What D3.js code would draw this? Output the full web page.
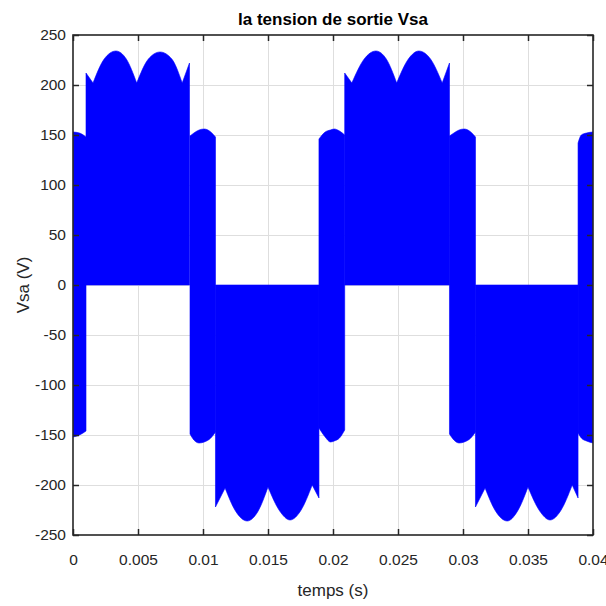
<!DOCTYPE html>
<html>
<head>
<meta charset="utf-8">
<script src="https://cdn.jsdelivr.net/npm/d3@7"></script>
<style>
  body { margin: 0; background: #fff; }
  text { font-family: "Liberation Sans", Arial, sans-serif; }
</style>
</head>
<body>
<script>
// axis ticks
const xTicks = [0, 0.005, 0.01, 0.015, 0.02, 0.025, 0.03, 0.035, 0.04];
const xTickLabels = ["0", "0.005", "0.01", "0.015", "0.02", "0.025", "0.03", "0.035", "0.04"];
const yTicks = [-250, -200, -150, -100, -50, 0, 50, 100, 150, 200, 250];

// bipolar stretches (output swings + and -): time, upper and lower envelope (V)
const bandA_t  = [0, 0.0005, 0.001];
const bandA_hi = [153, 152, 148];
const bandA_lo = [-152, -150, -146];

const bandB_t  = [0.009, 0.0093, 0.0097, 0.0101, 0.0106, 0.01096];
const bandB_hi = [149, 152, 155, 156, 153, 148];
const bandB_lo = [-149, -155, -158, -157, -153, -147];

const bandC_t  = [0.01892, 0.0194, 0.0198, 0.0201, 0.0205, 0.0209];
const bandC_hi = [146, 153, 155, 156, 154, 150];
const bandC_lo = [-143, -152, -157, -156, -153, -145];

const bandD_t  = [0.02896, 0.0293, 0.0297, 0.0301, 0.0306, 0.03096];
const bandD_hi = [149, 152, 155, 156, 153, 148];
const bandD_lo = [-149, -155, -158, -157, -153, -147];

const bandE_t  = [0.03885, 0.0391, 0.0395, 0.04];
const bandE_hi = [142, 150, 152, 153];
const bandE_lo = [-148, -153, -156, -158];

// unipolar stretches (pulses between 0 and the envelope): time, envelope (V)
const pos1_t = [0.0010, 0.00154, 0.0024, 0.0033, 0.0041, 0.0049, 0.0058, 0.0067, 0.0076, 0.0084, 0.00896];
const pos1_v = [212, 202, 226, 234, 226, 202, 226, 233, 226, 202, 222];

const neg1_t = [0.01096, 0.0117, 0.0125, 0.0134, 0.0142, 0.0150, 0.0159, 0.0167, 0.0175, 0.0184, 0.01892];
const neg1_v = [-222, -203, -226, -236, -227, -202, -226, -235, -226, -200, -213];

const pos2_t = [0.0209, 0.02145, 0.0224, 0.0233, 0.0241, 0.0249, 0.0258, 0.0266, 0.0275, 0.0284, 0.02896];
const pos2_v = [212, 202, 226, 234, 226, 202, 226, 234, 226, 202, 222];

const neg2_t = [0.03096, 0.0317, 0.0325, 0.0334, 0.0342, 0.0350, 0.0359, 0.0367, 0.0375, 0.0384, 0.03885];
const neg2_v = [-222, -203, -226, -236, -226, -202, -226, -235, -226, -200, -213];


const blue = "#0000ff";
const axisColor = "#262626";

let svg = d3.select("body").append("svg")
  .attr("width", 606)
  .attr("height", 606);

let x = d3.scaleLinear().domain([0, 0.04]).range([73, 593]);
let y = d3.scaleLinear().domain([-250, 250]).range([535, 35]);

svg.append("defs").append("clipPath").attr("id", "clip")
  .append("rect")
    .attr("x", x(0)).attr("y", y(250))
    .attr("width", x(0.04) - x(0)).attr("height", y(-250) - y(250));

// grid
let grid = svg.append("g").attr("stroke", "#dedede").attr("stroke-width", 1).attr("shape-rendering", "crispEdges");
grid.selectAll(null)
  .data(xTicks.slice(1, -1))
  .enter().append("line")
    .attr("x1", d => x(d)).attr("x2", d => x(d))
    .attr("y1", y(250)).attr("y2", y(-250));
grid.selectAll(null)
  .data(yTicks.slice(1, -1))
  .enter().append("line")
    .attr("x1", x(0)).attr("x2", x(0.04))
    .attr("y1", d => y(d)).attr("y2", d => y(d));

let plot = svg.append("g").attr("clip-path", "url(#clip)");

function drawBand(t, hi, lo) {
  let pts = t.map((d, i) => ({ t: d, hi: hi[i], lo: lo[i] }));
  plot.append("path")
    .datum(pts)
    .attr("d", d3.area()
      .x(d => x(d.t))
      .y0(d => y(d.lo))
      .y1(d => y(d.hi))
      .curve(d3.curveMonotoneX))
    .attr("fill", blue)
    .attr("stroke", blue)
    .attr("stroke-width", 0.6);
}

let arcLine = d3.line().x(d => x(d.t)).y(d => y(d.v)).curve(d3.curveMonotoneX);

function drawPulses(t, v) {
  let pts = t.map((d, i) => ({ t: d, v: v[i] }));
  // split the envelope at its cusps so each arc is smooth and the cusps stay sharp
  let groups = [], start = 0;
  for (let i = 1; i < pts.length - 1; i++) {
    let a = Math.abs(pts[i].v);
    if (a < Math.abs(pts[i - 1].v) && a < Math.abs(pts[i + 1].v)) {
      groups.push(pts.slice(start, i + 1));
      start = i;
    }
  }
  groups.push(pts.slice(start));
  // one closed path: baseline -> arcs -> baseline
  let d = `M${x(pts[0].t)},${y(0)}`;
  groups.forEach(g => { d += arcLine(g).replace(/^M/, "L"); });
  d += `L${x(pts[pts.length - 1].t)},${y(0)}Z`;
  plot.append("path")
    .attr("d", d)
    .attr("fill", blue)
    .attr("stroke", blue)
    .attr("stroke-width", 0.6);
}

drawPulses(pos1_t, pos1_v);
drawPulses(neg1_t, neg1_v);
drawPulses(pos2_t, pos2_v);
drawPulses(neg2_t, neg2_v);
drawBand(bandA_t, bandA_hi, bandA_lo);
drawBand(bandB_t, bandB_hi, bandB_lo);
drawBand(bandC_t, bandC_hi, bandC_lo);
drawBand(bandD_t, bandD_hi, bandD_lo);
drawBand(bandE_t, bandE_hi, bandE_lo);

// axes, ticks pointing inwards on all four sides
function styleAxis(g) {
  g.select(".domain").remove();
  g.selectAll(".tick line").attr("stroke", axisColor).attr("stroke-width", 1.5);
  g.selectAll(".tick text").attr("fill", axisColor).attr("font-size", "15.5px")
    .attr("font-family", "'Liberation Sans', Arial, sans-serif");
}

svg.append("g")
  .attr("transform", `translate(0,${y(-250)})`)
  .call(d3.axisBottom(x).tickValues(xTicks).tickFormat((d, i) => xTickLabels[i])
    .tickSizeInner(-6).tickSizeOuter(0).tickPadding(19))
  .call(styleAxis);

svg.append("g")
  .attr("transform", `translate(0,${y(250)})`)
  .call(d3.axisTop(x).tickValues(xTicks).tickFormat("").tickSizeInner(-6).tickSizeOuter(0))
  .call(styleAxis);

svg.append("g")
  .attr("transform", `translate(${x(0)},0)`)
  .call(d3.axisLeft(y).tickValues(yTicks).tickFormat(d => d)
    .tickSizeInner(-6).tickSizeOuter(0).tickPadding(7))
  .call(styleAxis);

svg.append("g")
  .attr("transform", `translate(${x(0.04)},0)`)
  .call(d3.axisRight(y).tickValues(yTicks).tickFormat("").tickSizeInner(-6).tickSizeOuter(0))
  .call(styleAxis);

svg.append("rect")
  .attr("x", x(0)).attr("y", y(250))
  .attr("width", x(0.04) - x(0)).attr("height", y(-250) - y(250))
  .attr("fill", "none")
  .attr("stroke", axisColor)
  .attr("stroke-width", 1.6);

// texts
svg.append("text")
  .attr("x", (x(0) + x(0.04)) / 2)
  .attr("y", 25)
  .attr("text-anchor", "middle")
  .attr("font-size", "17px")
  .attr("font-weight", "bold")
  .attr("fill", "#000")
  .text("la tension de sortie Vsa");

svg.append("text")
  .attr("x", (x(0) + x(0.04)) / 2)
  .attr("y", 596)
  .attr("text-anchor", "middle")
  .attr("font-size", "17px")
  .attr("fill", axisColor)
  .text("temps (s)");

svg.append("text")
  .attr("transform", `translate(29,${y(0)}) rotate(-90)`)
  .attr("text-anchor", "middle")
  .attr("font-size", "17px")
  .attr("fill", axisColor)
  .text("Vsa (V)");
</script>
</body>
</html>
